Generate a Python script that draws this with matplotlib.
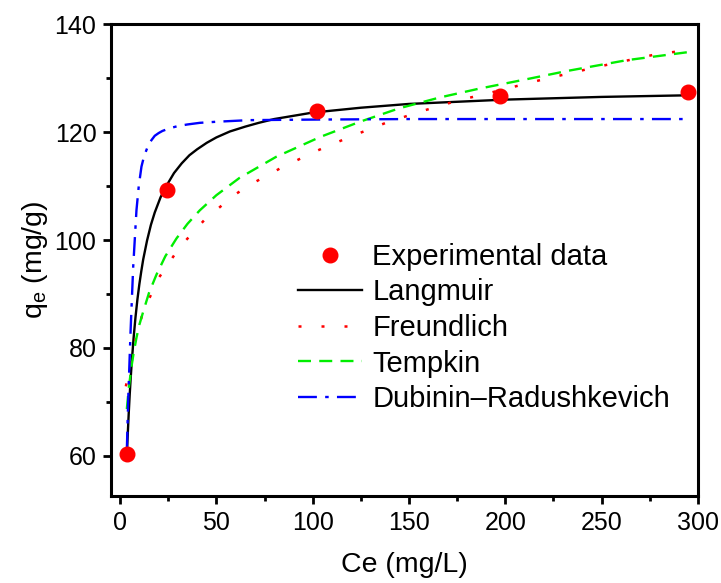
"""Adsorption isotherm fits vs experimental data."""

import matplotlib.pyplot as plt
from matplotlib.ticker import MultipleLocator

plt.rcParams["font.family"] = ["Liberation Sans", "DejaVu Sans"]
plt.rcParams["mathtext.fontset"] = "custom"
plt.rcParams["mathtext.rm"] = "Liberation Sans"
plt.rcParams["mathtext.it"] = "Liberation Sans"

# Experimental points
exp_ce = [3.5, 24.5, 102, 197, 295]
exp_qe = [60.4, 109.3, 123.8, 126.7, 127.4]

# Model curves
lang_ce = [3.5, 4, 4.5, 5, 5.5, 6, 7, 8, 9, 10, 11, 12, 14, 16, 18, 21, 24.5,
           28, 32, 36, 40, 45, 50, 57, 65, 72, 80, 90, 100, 125, 150, 175,
           200, 250, 295]
lang_qe = [60.0, 64.2, 68.0, 71.4, 74.4, 77.1, 81.8, 85.7, 89.0, 91.8, 94.2,
           96.4, 99.9, 102.8, 105.1, 107.9, 110.3, 112.4, 114.2, 115.7, 116.8,
           118.0, 119.0, 120.1, 121.0, 121.7, 122.4, 123.0, 123.6, 124.5,
           125.2, 125.6, 126.0, 126.5, 126.8]

freu_ce = [3.0, 6.8, 11.9, 20.3, 31, 44, 59.6, 67.3, 83.8, 102, 120, 138, 157,
           177, 187, 218, 247, 277, 295]
freu_qe = [72.9, 79.9, 86.7, 93.1, 98.7, 103.8, 108.4, 110.2, 113.4, 116.5,
           119.2, 121.7, 123.9, 126.0, 126.8, 129.6, 132.0, 134.3, 135.2]

temp_ce = [3.5, 4.5, 5.9, 7, 8.5, 10, 11.9, 15, 18.9, 23.5, 29.3, 35, 41.4, 50,
           62, 81, 104, 124.5, 145, 166, 186, 210, 232, 263, 295]
temp_qe = [68.7, 72.5, 76.5, 79.0, 81.9, 84.3, 86.6, 90.2, 93.6, 97.0, 100.3,
           103.0, 105.5, 108.3, 111.5, 115.4, 119.1, 121.9, 124.4, 126.4,
           128.0, 129.7, 131.3, 133.3, 134.8]

dr_ce = [3.5, 4.2, 5.4, 6.8, 8.5, 9.7, 11.1, 12.3, 13.5, 14.8, 16.3, 18, 20,
         22, 25.8, 30, 35, 41.4, 50, 67, 100, 150, 200, 250, 295]
dr_qe = [61.0, 70.3, 82.7, 95.0, 105.5, 110.0, 113.6, 115.3, 116.5, 117.7,
         118.5, 119.3, 119.8, 120.2, 120.7, 121.1, 121.4, 121.7, 121.9, 122.2,
         122.3, 122.4, 122.4, 122.4, 122.4]

fig = plt.figure(figsize=(7.21, 5.83), dpi=100)
ax = fig.add_axes([0.154, 0.1484, 0.814, 0.8104])

ax.plot(exp_ce, exp_qe, "o", color="red", markersize=10.5, zorder=5,
        label="Experimental data")
ax.plot(lang_ce, lang_qe, "-", color="black", lw=1.7, label="Langmuir")
ax.plot(freu_ce, freu_qe, color="red", lw=1.8, dashes=(1.2, 8),
        label="Freundlich")
ax.plot(temp_ce, temp_qe, color="#00ee00", lw=1.7, dashes=(5.5, 3.5),
        label="Tempkin")
ax.plot(dr_ce, dr_qe, color="blue", lw=1.7, dashes=(8, 3.5, 1.5, 3.5),
        label="Dubinin\u2013Radushkevich")

ax.set_xlim(-4.7, 300)
ax.set_ylim(52.5, 140)
ax.xaxis.set_major_locator(MultipleLocator(50))
ax.xaxis.set_minor_locator(MultipleLocator(25))
ax.yaxis.set_major_locator(MultipleLocator(20))
ax.yaxis.set_minor_locator(MultipleLocator(10))

for side in ax.spines.values():
    side.set_linewidth(2.2)
ax.tick_params(which="both", direction="out", top=False, right=False,
               width=2, labelsize=18)
ax.tick_params(which="major", length=5.5, pad=5)
ax.tick_params(which="minor", length=3.5)

ax.set_xlabel("Ce (mg/L)", fontsize=20.5, labelpad=12)
ax.set_ylabel(r"$\mathregular{q_e}$ (mg/g)", fontsize=20.5, labelpad=3)

ax.legend(loc="center left", bbox_to_anchor=(0.397, 0.4375),
          bbox_transform=fig.transFigure, frameon=False, fontsize=21,
          handlelength=2.2, handletextpad=0.35, labelspacing=0.26,
          borderaxespad=0)

fig.savefig("out.png", dpi=100)
